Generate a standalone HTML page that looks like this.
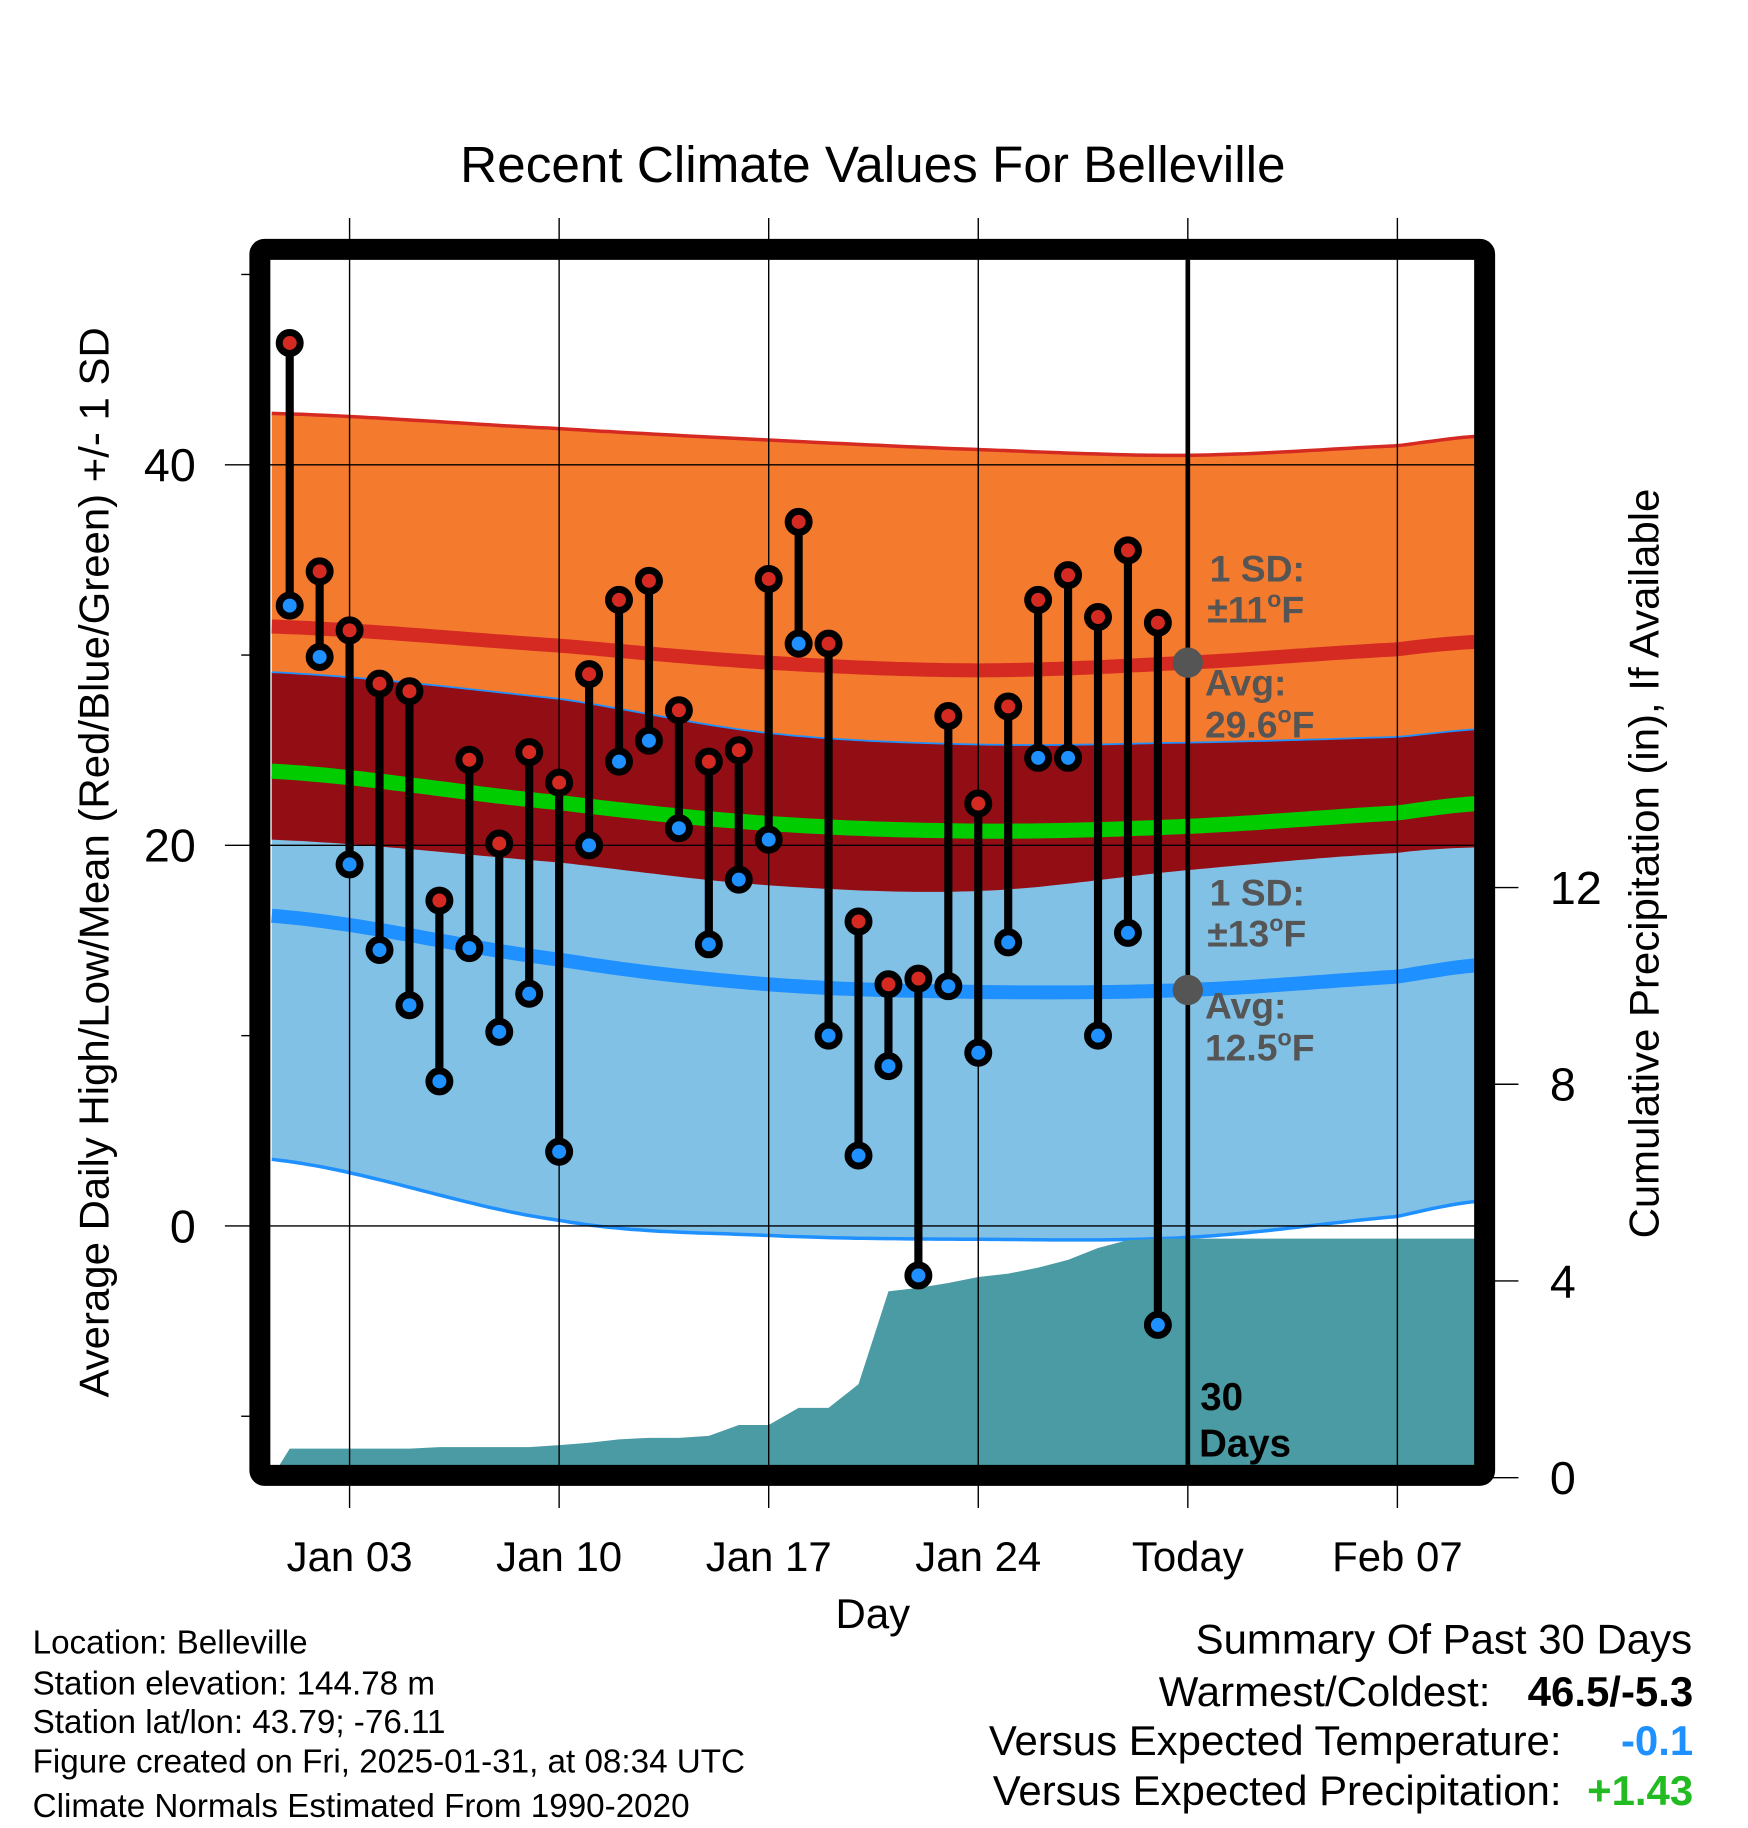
<!DOCTYPE html>
<html><head><meta charset="utf-8"><style>
html,body{margin:0;padding:0;background:#fff}
svg{display:block;font-family:"Liberation Sans",Arial,sans-serif}
</style></head><body>
<svg id="chart" width="1748" height="1828" viewBox="0 0 1500 1568.6" xmlns="http://www.w3.org/2000/svg">
<g id="layer"></g>
</svg>
<script>
// ---- data ----
const highs = [46.4,34.4,31.3,28.5,28.1,17.1,24.5,20.1,24.9,23.3,29.0,32.9,33.9,27.1,24.4,25.0,34.0,37.0,30.6,16.0,12.7,13.0,26.8,22.2,27.3,32.9,34.2,32.0,35.5,31.7];
const lows  = [32.6,29.9,19.0,14.5,11.6,7.6,14.6,10.2,12.2,3.9,20.0,24.4,25.5,20.9,14.8,18.2,20.3,30.6,10.0,3.7,8.4,-2.6,12.6,9.1,14.9,24.6,24.6,10.0,15.4,-5.2];
const precipCum = [0.59,0.59,0.59,0.59,0.59,0.62,0.62,0.62,0.62,0.66,0.71,0.78,0.81,0.81,0.85,1.07,1.07,1.42,1.42,1.90,3.79,3.86,3.96,4.08,4.15,4.27,4.43,4.67,4.83,4.86,4.86];
const normDays = [0.4,10,17,24,31,38,40.7];
const normHigh = [31.5,30.5,29.6,29.2,29.6,30.3,30.7];
const sdHigh   = [11.2,11.4,11.7,11.6,10.9,10.7,10.8];
const normLow  = [16.3,14.0,12.7,12.3,12.4,13.1,13.7];
const sdLow    = [12.8,13.7,13.2,13.0,13.0,12.6,12.4];
const xTickDays = [3,10,17,24,31,38];
const xTickLabels = ["Jan 03","Jan 10","Jan 17","Jan 24","Today","Feb 07"];
const yTicks = [40,20,0];
const yMinor = [50,30,10,-10];
const pTicks = [0,4,8,12];

// ---- scales ----
const X0=232,X1=1268,Y0=223,Y1=1258;
const xs = d => 248.6 + (d-1)*25.69;
const ys = t => 1052 - t*16.33;
const ps = p => 1268 - p*42.2;

const NS="http://www.w3.org/2000/svg";
const layer=document.getElementById('layer');
function mk(tag,attrs,parent){const e=document.createElementNS(NS,tag);for(const k in attrs)e.setAttribute(k,attrs[k]);(parent||layer).appendChild(e);return e;}

function interp(arr,d){
  let i=0; while(i<normDays.length-2 && d>normDays[i+1]) i++;
  const t=(d-normDays[i])/(normDays[i+1]-normDays[i]);
  const p0=arr[Math.max(i-1,0)],p1=arr[i],p2=arr[i+1],p3=arr[Math.min(i+2,arr.length-1)];
  return 0.5*((2*p1)+(-p0+p2)*t+(2*p0-5*p1+4*p2-p3)*t*t+(-p0+3*p1-3*p2+p3)*t*t*t);
}
const samples=[];
for(let d=normDays[0];d<=normDays[normDays.length-1]+0.001;d+=0.25)samples.push(d);
function line(fn){return samples.map(d=>[xs(d),ys(fn(d))]);}
const hiUp=line(d=>interp(normHigh,d)+interp(sdHigh,d));
const hiDn=line(d=>interp(normHigh,d)-interp(sdHigh,d));
const loUp=line(d=>interp(normLow,d)+interp(sdLow,d));
const loDn=line(d=>interp(normLow,d)-interp(sdLow,d));
const hiAvg=line(d=>interp(normHigh,d));
const loAvg=line(d=>interp(normLow,d));
const meanL=line(d=>(interp(normHigh,d)+interp(normLow,d))/2);
const pts=a=>a.map(p=>p[0].toFixed(1)+','+p[1].toFixed(1)).join(' ');
const band=(a,b)=>pts(a)+' '+pts(b.slice().reverse());

const clip=mk('clipPath',{id:'plotclip'});
mk('rect',{x:X0,y:Y0,width:X1-X0,height:Y1-Y0},clip);
const g=mk('g',{'clip-path':'url(#plotclip)'});

let e;
e=mk('polygon',{points:band(hiUp,hiDn),fill:'#F47A2E'},g);

e=mk('polygon',{points:band(loUp,loDn),fill:'#82C1E6'},g);

e=mk('polygon',{points:band(loUp,hiDn),fill:'#930E14'},g);

mk('polyline',{points:pts(hiUp),fill:'none',stroke:'#D42A22','stroke-width':3},g);
mk('polyline',{points:pts(loUp),fill:'none',stroke:'#1E90FF','stroke-width':1.5},g);
mk('polyline',{points:pts(loDn),fill:'none',stroke:'#1E90FF','stroke-width':3},g);
e=mk('polyline',{points:pts(hiAvg),fill:'none',stroke:'#D42A22','stroke-width':12},g);

e=mk('polyline',{points:pts(loAvg),fill:'none',stroke:'#1E90FF','stroke-width':12},g);

e=mk('polyline',{points:pts(meanL),fill:'none',stroke:'#00CC00','stroke-width':13},g);


// precip
let pp=[[xs(0.4),ps(0)]];
precipCum.forEach((v,i)=>pp.push([xs(i+1),ps(v)]));
pp.push([X1+5,ps(precipCum[precipCum.length-1])]);
pp.push([X1+5,Y1+5]);pp.push([xs(0.4),Y1+5]);
e=mk('polygon',{points:pts(pp),fill:'#4A9BA3'},g);


// grid
xTickDays.forEach(d=>{const x=xs(d);mk('line',{x1:x,x2:x,y1:187,y2:1294,stroke:'#000','stroke-width':1.2});});
yTicks.forEach(t=>{const y=ys(t);mk('line',{x1:193,x2:X1,y1:y,y2:y,stroke:'#000','stroke-width':1.2});});
yMinor.forEach(t=>{const y=ys(t);mk('line',{x1:207,x2:216,y1:y,y2:y,stroke:'#000','stroke-width':1.2});});
pTicks.forEach(p=>{const y=ps(p);mk('line',{x1:1280,x2:1303,y1:y,y2:y,stroke:'#000','stroke-width':1.2});});

e=mk('line',{x1:xs(31),x2:xs(31),y1:Y0,y2:Y1,stroke:'#000','stroke-width':4});


highs.forEach((h,i)=>{
  const x=xs(i+1),l=lows[i];
  const s=mk('line',{x1:x,x2:x,y1:ys(h),y2:ys(l),stroke:'#000','stroke-width':7});
  
});
highs.forEach((h,i)=>{
  const x=xs(i+1),l=lows[i];
  const c1=mk('circle',{cx:x,cy:ys(h),r:9,fill:'#D42A22',stroke:'#000','stroke-width':6});
  
  const c2=mk('circle',{cx:x,cy:ys(l),r:9,fill:'#1E90FF',stroke:'#000','stroke-width':6});
  
});
e=mk('circle',{cx:xs(31),cy:ys(interp(normHigh,31)),r:13,fill:'#555'});

e=mk('circle',{cx:xs(31),cy:ys(interp(normLow,31)),r:13,fill:'#555'});


e=mk('rect',{x:223,y:214,width:1051,height:1052,fill:'none',stroke:'#000','stroke-width':18,rx:4});


xTickDays.forEach((d,i)=>{
  const t=mk('text',{x:xs(d),y:1348,'font-size':36,'text-anchor':'middle'});
  t.textContent=xTickLabels[i];
  
});
yTicks.forEach(v=>{
  const t=mk('text',{x:168,y:ys(v)+14,'font-size':40,'text-anchor':'end'});
  t.textContent=v;
  
});
pTicks.forEach(v=>{
  const t=mk('text',{x:1330,y:ps(v)+14,'font-size':40,'text-anchor':'start'});
  t.textContent=v;
  
});
</script>
<script>
(function(){
const svg=document.getElementById('chart');
svg.insertAdjacentHTML('beforeend',`
<text x="749" y="156" font-size="44" text-anchor="middle">Recent Climate Values For Belleville</text>
<text transform="translate(93,740) rotate(-90)" font-size="36" text-anchor="middle">Average Daily High/Low/Mean (Red/Blue/Green) +/- 1 SD</text>
<text transform="translate(1423,741) rotate(-90)" font-size="36" text-anchor="middle">Cumulative Precipitation (in), If Available</text>
<text x="749" y="1397" font-size="36" text-anchor="middle">Day</text>
<g font-weight="bold" font-size="32" fill="#555">
<text x="1038" y="499">1 SD:</text>
<text x="1036" y="534">±11<tspan font-size="20" dy="-13">o</tspan><tspan dy="13">F</tspan></text>
<text x="1034" y="597">Avg:</text>
<text x="1034" y="633">29.6<tspan font-size="20" dy="-13">o</tspan><tspan dy="13">F</tspan></text>
<text x="1038" y="777">1 SD:</text>
<text x="1036" y="812">±13<tspan font-size="20" dy="-13">o</tspan><tspan dy="13">F</tspan></text>
<text x="1034" y="874">Avg:</text>
<text x="1034" y="910">12.5<tspan font-size="20" dy="-13">o</tspan><tspan dy="13">F</tspan></text>
</g>
<g font-weight="bold" font-size="33" fill="#000">
<text x="1030" y="1210">30</text>
<text x="1029" y="1250">Days</text>
</g>
<g font-size="28.5" fill="#000">
<text x="28" y="1419">Location: Belleville</text>
<text x="28" y="1454">Station elevation: 144.78 m</text>
<text x="28" y="1487">Station lat/lon: 43.79; -76.11</text>
<text x="28" y="1521">Figure created on Fri, 2025-01-31, at 08:34 UTC</text>
<text x="28" y="1559">Climate Normals Estimated From 1990-2020</text>
</g>
<g font-size="36" fill="#000">
<text x="1452" y="1419" text-anchor="end">Summary Of Past 30 Days</text>
<text x="1279" y="1464" text-anchor="end">Warmest/Coldest:</text>
<text x="1453" y="1464" text-anchor="end" font-weight="bold">46.5/-5.3</text>
<text x="1340" y="1506" text-anchor="end">Versus Expected Temperature:</text>
<text x="1453" y="1506" text-anchor="end" font-weight="bold" fill="#1E90FF">-0.1</text>
<text x="1340" y="1549" text-anchor="end">Versus Expected Precipitation:</text>
<text x="1453" y="1549" text-anchor="end" font-weight="bold" fill="#22BB22">+1.43</text>
</g>`);
})();
</script>
</body></html>
